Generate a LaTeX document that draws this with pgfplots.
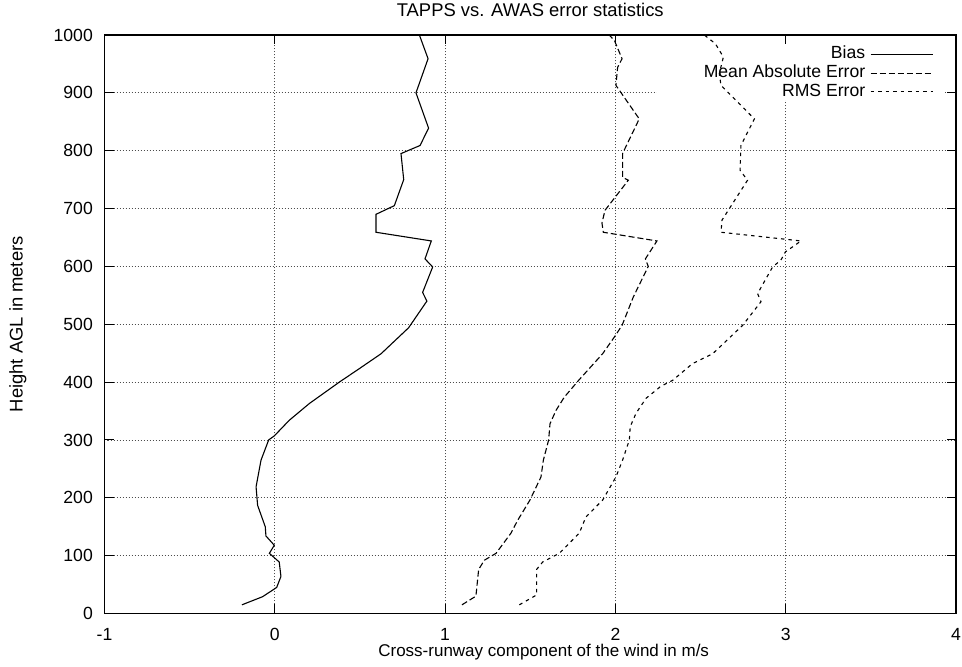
\documentclass[border=0pt]{standalone}
\usepackage{fontspec}
\setmainfont{Liberation Sans}
\usepackage{pgfplots}
\pgfplotsset{compat=1.18}
\newcommand{\ff}{\fontsize{17.6}{20}\selectfont}
\newcommand{\fx}{\fontsize{17}{20}\selectfont}
\newcommand{\fy}{\fontsize{18.4}{20}\selectfont}
\begin{document}
\begin{tikzpicture}[font=\ff]
\useasboundingbox (0,0) rectangle (962pt,667pt);
\begin{axis}[
  at={(104.5pt,53.5pt)}, anchor=south west,
  scale only axis, width=851.5pt, height=578.5pt,
  xmin=-1, xmax=4, ymin=0, ymax=1000,
  xtick={-1,0,1,2,3,4}, ytick={0,100,...,1000},
  /pgf/number format/assume math mode=true,
  /pgf/number format/1000 sep={},
  tick align=inside, tick pos=both,
  major tick length=9pt,
  axis line style={line width=1.2pt},
  every tick/.style={black, line width=1pt},
  grid=major,
  major grid style={black!70, line width=0.8pt, dash pattern=on 1pt off 2pt},
  tick label style={font=\ff},
  xticklabel style={inner sep=0pt, anchor=north, yshift=-14.5pt},
  yticklabel style={inner sep=0pt, anchor=east, xshift=-11.5pt},
  xlabel={Cross-runway component of the wind in m/s},
  ylabel={Height AGL in meters},
  xlabel style={font=\fx, inner sep=0pt, at={(axis description cs:0.5158,0)}, anchor=center, yshift=-38.5pt},
  ylabel style={font=\fy, at={(axis description cs:-0.1016,0.5)}, anchor=center},
  title={TAPPS vs. AWAS error statistics},
  title style={font=\fy, inner sep=0pt, at={(axis description cs:0.5,1)}, anchor=base, yshift=12pt},
  legend cell align=right,
  legend plot pos=right,
  legend style={at={(axis cs:3.8667,979.9)}, anchor=north east, draw=none, fill=none,
    inner sep=0pt, outer sep=0pt, row sep=3.2pt, column sep=5pt,
    font=\ff, nodes={inner sep=0pt, text height=12pt, text depth=3.5pt}},
  legend image code/.code={\draw[#1] (0pt,0pt) -- (62pt,0pt);},
]
\fill[white] (axis cs:2.246,888) rectangle (axis cs:3.937,983);
\addplot[black, line width=1.1pt] coordinates {
(-0.193,15) (-0.072,29) (0.011,45) (0.036,64) (0.026,89) (-0.032,104)
(-0.003,118) (-0.052,134) (-0.056,150) (-0.101,187) (-0.110,219)
(-0.081,265) (-0.036,300) (-0.003,307) (0.085,334) (0.203,363)
(0.379,400) (0.500,424) (0.624,449) (0.786,494) (0.893,540) (0.868,555)
(0.927,599) (0.882,613) (0.919,644) (0.594,659) (0.594,690) (0.702,705)
(0.757,750) (0.741,795) (0.853,809) (0.903,839) (0.829,900) (0.900,959)
(0.849,1000)
};
\addlegendentry{Bias}
\addplot[black, line width=1.1pt, dash pattern=on 6pt off 3pt] coordinates {
(1.099,15) (1.181,30) (1.197,76) (1.230,92) (1.299,104) (1.387,139)
(1.426,161) (1.498,196) (1.563,236) (1.577,265) (1.608,300) (1.616,328)
(1.651,351) (1.700,374) (1.784,403) (1.925,449) (1.994,478) (2.039,498)
(2.105,547) (2.193,600) (2.176,613) (2.244,644) (1.929,659) (1.921,675)
(1.939,697) (2.076,749) (2.042,754) (2.042,795) (2.140,855) (2.003,913)
(2.013,944) (2.039,959) (1.995,990) (1.964,1000)
};
\addlegendentry{Mean Absolute Error}
\addplot[black, line width=1.1pt, dash pattern=on 3.5pt off 4pt] coordinates {
(1.436,15) (1.537,32) (1.537,76) (1.573,89) (1.671,104) (1.788,139)
(1.827,167) (1.925,196) (2.003,236) (2.042,265) (2.082,300) (2.087,323)
(2.121,346) (2.180,372) (2.268,393) (2.336,403) (2.453,432) (2.571,449)
(2.747,498) (2.855,539) (2.835,553) (2.923,599) (2.972,611) (2.998,625)
(3.090,644) (2.620,659) (2.626,680) (2.776,749) (2.732,766) (2.737,809)
(2.816,855) (2.620,913) (2.610,933) (2.634,962) (2.587,985) (2.522,1000)
};
\addlegendentry{RMS Error}
\end{axis}
\end{tikzpicture}
\end{document}
